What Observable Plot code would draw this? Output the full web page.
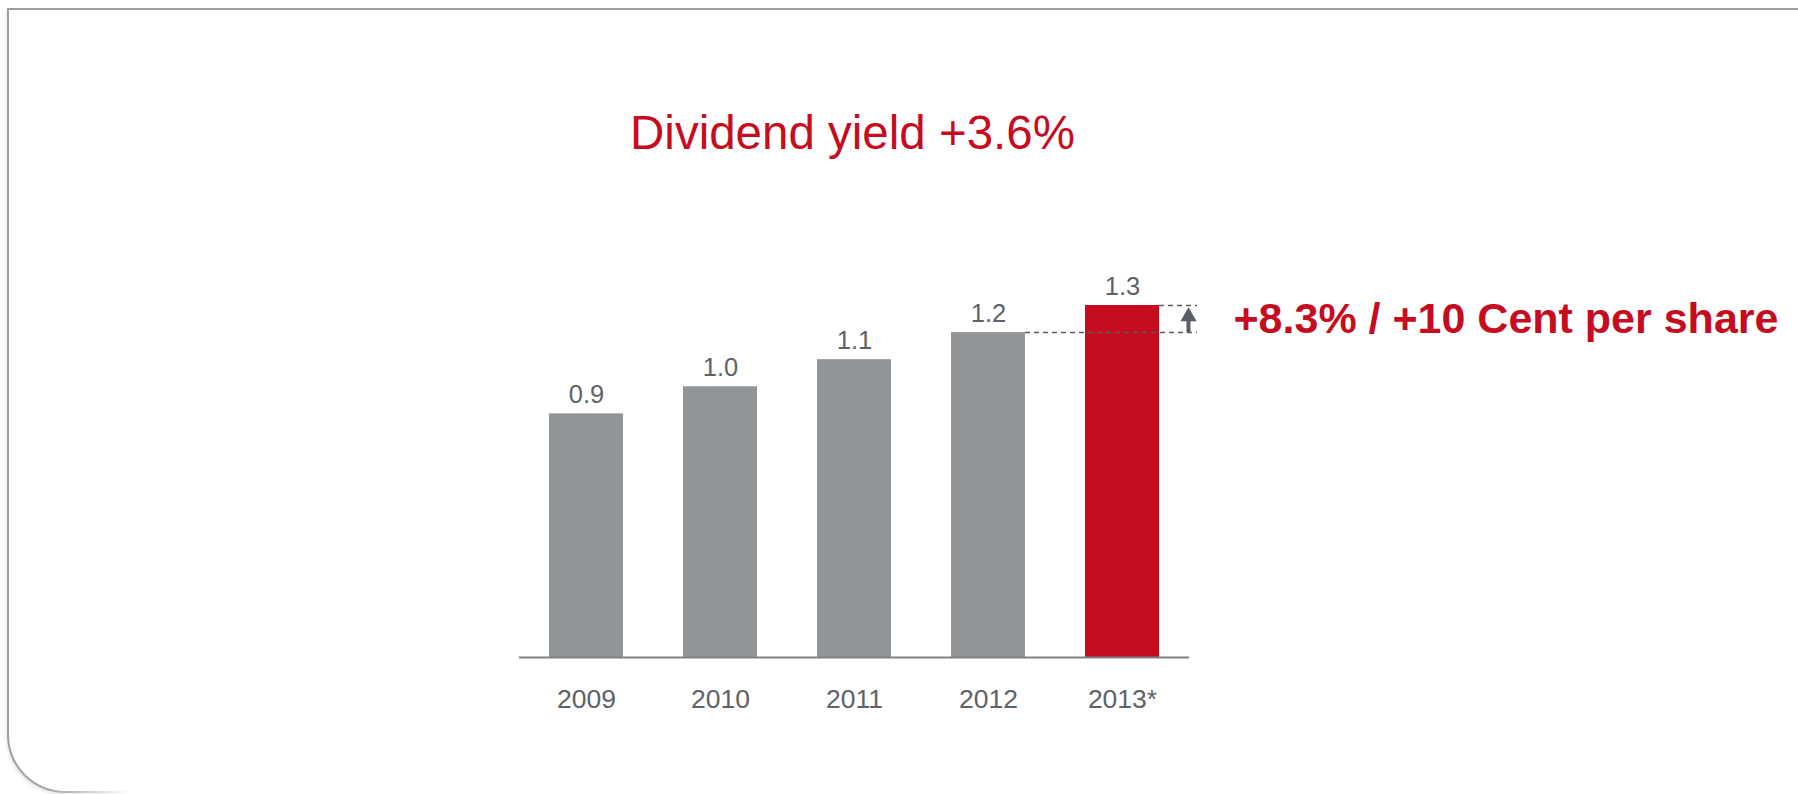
<!DOCTYPE html>
<html>
<head>
<meta charset="utf-8">
<script src="https://cdn.jsdelivr.net/npm/d3@7"></script>
<script src="https://cdn.jsdelivr.net/npm/@observablehq/plot@0.6"></script>
<style>
  html, body { margin: 0; padding: 0; background: #fff; }
  #wrap { position: relative; width: 1798px; height: 794px; overflow: hidden; font-family: "Liberation Sans", Arial, sans-serif; }
  #frame { position: absolute; left: 7px; top: 8px; width: 1900px; height: 785px; box-sizing: border-box;
           border-top: 2px solid #9e9e9e; border-left: 2px solid #9e9e9e; border-bottom: 2px solid #a4a4a4;
           border-bottom-left-radius: 58px; box-shadow: -1px 2px 3px rgba(0,0,0,0.10); }
  #fade { position: absolute; left: 50px; right: 0; top: 786px; height: 8px;
          background: linear-gradient(to right, rgba(255,255,255,0), #fff 80px); }
  #chart { position: absolute; left: 0; top: 0; }
</style>
</head>
<body>
<div id="wrap">
  <div id="frame"></div>
  <div id="fade"></div>
  <div id="chart"></div>
</div>
<script>
// ---- data ----
const years = ["2009", "2010", "2011", "2012", "2013*"];
const dividends = [0.9, 1.0, 1.1, 1.2, 1.3];
const valueLabels = ["0.9", "1.0", "1.1", "1.2", "1.3"];
const highlightYear = "2013*";
const previousYear = "2012";
const titleText = "Dividend yield +3.6%";
const annotationText = "+8.3% / +10 Cent per share";

// ---- styles ----
const RED = "#c60c1f";
const GRAY = "#939699";
const TEXT = "#5d6268";
const DARK = "#585e63";
const BAR_W = 74;

const rows = years.map((year, i) => ({year, value: dividends[i], label: valueLabels[i]}));
const prev = rows.find(d => d.year === previousYear);
const curr = rows.find(d => d.year === highlightYear);

const chart = Plot.plot({
  width: 1798,
  height: 794,
  marginLeft: 519,
  marginRight: 609,
  marginTop: 305,
  marginBottom: 137,
  style: {fontFamily: '"Liberation Sans", Arial, sans-serif', background: "transparent", overflow: "visible"},
  x: {domain: years, paddingInner: 0.449, paddingOuter: 0.22},
  y: {domain: [0, 1.3], axis: null},
  marks: [
    Plot.barY(rows.filter(d => d.year !== highlightYear), {x: "year", y: "value", fill: GRAY}),
    Plot.barY(rows.filter(d => d.year === highlightYear), {x: "year", y: "value", fill: RED}),
    Plot.ruleY([0], {stroke: "#7d8286", strokeWidth: 2}),
    Plot.axisX({tickSize: 0, tickPadding: 32, fontSize: 26.5, color: TEXT, fill: TEXT, label: null}),
    Plot.text(rows, {x: "year", y: "value", text: "label", dy: -11, lineAnchor: "bottom", fontSize: 25.5, fill: TEXT}),
    // dashed reference lines
    Plot.ruleY([prev], {x1: "year", x2: () => highlightYear, y: "value", insetLeft: BAR_W, insetRight: -38,
      stroke: DARK, strokeWidth: 1.5, strokeDasharray: "5,4"}),
    Plot.ruleY([curr], {x1: "year", x2: "year", y: "value", insetLeft: BAR_W, insetRight: -38,
      stroke: DARK, strokeWidth: 1.5, strokeDasharray: "5,4"}),
    // arrow
    Plot.ruleX([curr], {x: "year", y1: "value", y2: () => prev.value, dx: 66, insetTop: 14,
      stroke: DARK, strokeWidth: 4}),
    Plot.dot([curr], {x: "year", y: "value", dx: 66, dy: 11, symbol: "triangle", r: 6, fill: DARK, stroke: "none"}),
    // annotation
    Plot.text([{year: highlightYear, value: prev.value, text: annotationText}], {
      x: "year", y: "value", text: "text", dx: 111, textAnchor: "start", lineAnchor: "bottom",
      fontSize: 43, fontWeight: "bold", fill: RED}),
    // title
    Plot.text([titleText], {frameAnchor: "top", dx: -2, dy: -157, lineAnchor: "bottom", fontSize: 47.5, fill: RED})
  ]
});
document.getElementById("chart").appendChild(chart);
</script>
</body>
</html>
